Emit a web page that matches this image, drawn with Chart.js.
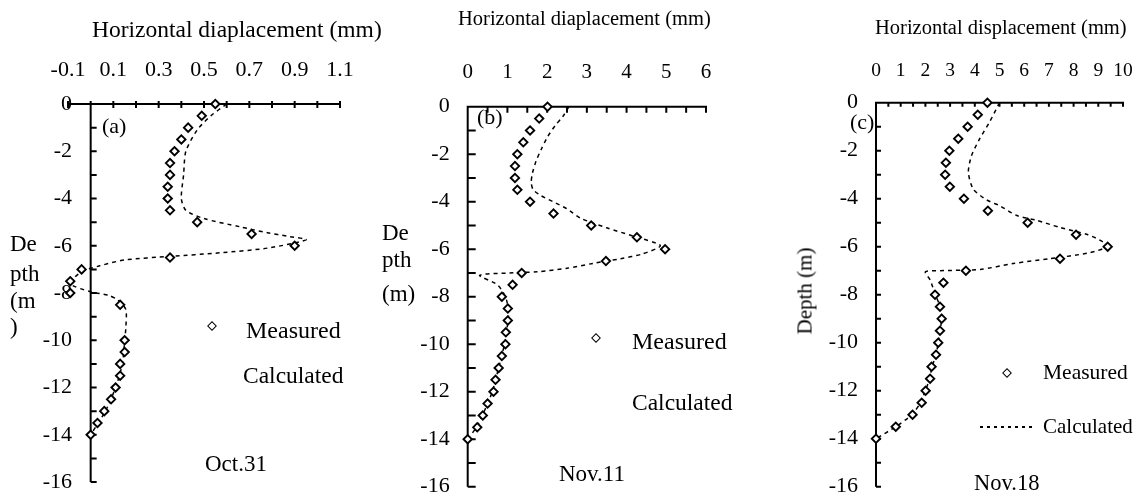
<!DOCTYPE html>
<html><head><meta charset="utf-8">
<script src="https://cdn.jsdelivr.net/npm/chart.js@4.4.0/dist/chart.umd.min.js"></script>
<style>
html,body{margin:0;padding:0;background:#fff;}
#wrap{position:relative;width:1140px;height:502px;overflow:hidden;font-family:'Liberation Serif','Times New Roman',serif;color:#000;}
canvas{position:absolute;top:0;}
.t{position:absolute;white-space:nowrap;line-height:1;transform:translateY(-50%);}
.dm{position:absolute;box-sizing:border-box;width:7px;height:7px;border:1.9px solid #000;background:#fff;transform:translate(-50%,-50%) rotate(45deg);}
.ln{position:absolute;height:1.5px;background:repeating-linear-gradient(90deg,#000 0 3px,transparent 3px 7px);}
.rot{position:absolute;white-space:nowrap;line-height:1;transform:translate(-50%,-50%) rotate(-90deg);}
</style></head><body>
<div id="wrap">
<canvas id="cA" width="380" height="502" style="left:0"></canvas>
<canvas id="cB" width="380" height="502" style="left:380px"></canvas>
<canvas id="cC" width="380" height="502" style="left:760px"></canvas>

<div class="t" style="left:92px;top:30px;font-size:23.5px">Horizontal diaplacement (mm)</div>
<div class="t" style="left:458px;top:18px;font-size:20.5px">Horizontal diaplacement (mm)</div>
<div class="t" style="left:875px;top:27px;font-size:20.5px">Horizontal displacement (mm)</div>

<div class="t" style="left:102px;top:126px;font-size:22px">(a)</div>
<div class="t" style="left:477px;top:117px;font-size:22px">(b)</div>
<div class="t" style="left:850px;top:122px;font-size:22px">(c)</div>

<div class="t" style="left:10px;top:243px;font-size:23px">De</div>
<div class="t" style="left:10px;top:273px;font-size:23px">pth</div>
<div class="t" style="left:10px;top:300px;font-size:23px">(m</div>
<div class="t" style="left:10px;top:326px;font-size:23px">)</div>

<div class="t" style="left:382px;top:232px;font-size:23px">De</div>
<div class="t" style="left:382px;top:259px;font-size:23px">pth</div>
<div class="t" style="left:382px;top:293px;font-size:23px">(m)</div>

<div class="rot" style="left:805px;top:291px;font-size:21px">Depth (m)</div>

<div class="dm" style="left:212px;top:326px"></div>
<div class="t" style="left:246px;top:330px;font-size:24px">Measured</div>
<div class="t" style="left:243px;top:376px;font-size:23.5px">Calculated</div>
<div class="t" style="left:205px;top:463px;font-size:23px">Oct.31</div>

<div class="dm" style="left:596px;top:338px"></div>
<div class="t" style="left:632px;top:341px;font-size:24px">Measured</div>
<div class="t" style="left:632px;top:403px;font-size:23.5px">Calculated</div>
<div class="t" style="left:559px;top:473px;font-size:23px">Nov.11</div>

<div class="dm" style="left:1007px;top:373px"></div>
<div class="t" style="left:1043px;top:373px;font-size:21.5px">Measured</div>
<div class="ln" style="left:980px;top:426px;width:56px"></div>
<div class="t" style="left:1043px;top:426px;font-size:21px">Calculated</div>
<div class="t" style="left:974px;top:483px;font-size:22.5px">Nov.18</div>
</div>
<script>
// ---- data ----
const depthA = [0,-0.5,-1,-1.5,-2,-2.5,-3,-3.5,-4,-4.5,-5,-5.5,-6,-6.5,-7,-7.5,-8,-8.5,-10,-10.5,-11,-11.5,-12,-12.5,-13,-13.5,-14];
const measA = [0.55,0.49,0.43,0.40,0.37,0.35,0.35,0.34,0.34,0.35,0.47,0.71,0.90,0.35,-0.04,-0.09,-0.09,0.13,0.15,0.15,0.13,0.13,0.11,0.09,0.06,0.03,0.00];
const calcDepthA = [0,-0.5,-1.1,-2,-3,-4,-4.5,-4.85,-5.2,-5.45,-5.6,-5.75,-6.1,-6.3,-6.45,-6.6,-6.85,-7.1,-7.6,-7.95,-8.1,-8.3,-8.7,-9.5,-10,-11,-12,-13,-14];
const calcA = [0.60,0.53,0.47,0.42,0.41,0.40,0.42,0.50,0.66,0.78,0.87,0.95,0.78,0.57,0.35,0.15,0.04,-0.04,-0.09,0.00,0.08,0.12,0.155,0.155,0.15,0.14,0.11,0.065,0.00];

const depthBC = [0,-0.5,-1,-1.5,-2,-2.5,-3,-3.5,-4,-4.5,-5,-5.5,-6,-6.5,-7,-7.5,-8,-8.5,-9,-9.5,-10,-10.5,-11,-11.5,-12,-12.5,-13,-13.5,-14];
const measB = [2.01,1.80,1.57,1.40,1.25,1.19,1.19,1.25,1.57,2.16,3.11,4.26,4.97,3.48,1.36,1.13,0.86,1.01,1.01,0.96,0.95,0.86,0.78,0.70,0.65,0.50,0.38,0.24,0.00];
const calcDepthB = [0,-0.4,-0.8,-1.3,-1.8,-2.3,-2.8,-3.2,-3.5,-3.75,-4.0,-4.3,-4.7,-5.1,-5.45,-5.85,-6.2,-6.4,-6.6,-6.8,-6.95,-7.0,-7.1,-7.5,-8,-8.5,-9,-9.5,-10,-10.5,-11,-11.5,-12,-12.5,-13,-13.5,-14];
const calcB = [2.55,2.40,2.20,2.00,1.85,1.72,1.63,1.60,1.65,1.85,2.15,2.50,2.85,3.50,4.17,4.85,4.40,3.85,3.15,2.50,1.75,1.05,0.30,0.75,0.95,1.02,1.02,0.97,0.93,0.85,0.78,0.70,0.62,0.50,0.37,0.22,0.00];

const measC = [4.51,4.12,3.71,3.33,2.97,2.83,2.80,2.99,3.56,4.53,6.14,8.10,9.38,7.45,3.64,2.73,2.39,2.59,2.66,2.59,2.52,2.43,2.25,2.19,2.01,1.85,1.48,0.80,0.00];
const calcDepthC = [0,-0.8,-1.5,-2.2,-2.9,-3.6,-4.05,-4.3,-4.7,-4.9,-5.2,-5.5,-5.8,-6.0,-6.25,-6.5,-6.7,-6.95,-7.0,-7.05,-7.4,-8,-8.5,-9,-9.5,-10,-10.5,-11,-11.5,-12,-12.5,-13,-13.5,-14];
const calcC = [5.00,4.60,4.20,3.87,3.74,3.94,4.48,5.02,5.70,6.50,7.45,8.58,9.19,9.35,8.66,7.04,5.55,4.21,2.60,2.00,2.20,2.40,2.60,2.66,2.59,2.52,2.43,2.27,2.17,2.00,1.80,1.45,0.80,0.00];

const xLabelsA = ['-0.1','0.1','0.3','0.5','0.7','0.9','1.1'];
const xLabelsB = ['0','1','2','3','4','5','6'];
const xLabelsC = ['0','1','2','3','4','5','6','7','8','9','10'];
const yLabels = ['0','-2','-4','-6','-8','-10','-12','-14','-16'];

// ---- helpers ----
const FONT = "'Liberation Serif','Times New Roman',serif";
const pts = (xs, ys) => xs.map((v, i) => ({x: v, y: ys[i]}));
const fmt = v => String(Math.round(v * 10) / 10);
const pick = labels => v => { const s = fmt(v); return labels.includes(s) ? s : ''; };

const axisPlugin = {
  id: 'axes',
  beforeDatasetsDraw(chart, args, o) {
    const {ctx, scales: {x, y}} = chart;
    const x0 = x.getPixelForValue(0), y0 = y.getPixelForValue(0), yB = y.getPixelForValue(y.min);
    ctx.save();
    ctx.strokeStyle = '#000'; ctx.lineWidth = o.lw;
    ctx.beginPath();
    ctx.moveTo(x.left, y0); ctx.lineTo(x.right + 1, y0);
    ctx.moveTo(x0, y0 - 1); ctx.lineTo(x0, yB);
    x.ticks.forEach(t => { const p = x.getPixelForValue(t.value); ctx.moveTo(p, y0 - o.xUp); ctx.lineTo(p, y0 + o.xDown); });
    y.ticks.forEach(t => { const p = y.getPixelForValue(t.value); ctx.moveTo(x0, p); ctx.lineTo(x0 + o.yLen, p); });
    ctx.stroke();
    ctx.restore();
  }
};

function makeChart(id, cfg) {
  return new Chart(document.getElementById(id), {
    type: 'scatter',
    data: {
      datasets: [
        { label: 'Measured', data: pts(cfg.meas, cfg.depth), showLine: false, pointStyle: 'rectRot',
          pointRadius: 4.2, pointBorderWidth: 1.9, pointBackgroundColor: '#fff', pointBorderColor: '#000', clip: false, order: 0 },
        { label: 'Calculated', data: pts(cfg.calc, cfg.calcDepth), showLine: true, pointRadius: 0,
          borderColor: '#000', borderWidth: 1.5, borderDash: [4, 4], tension: 0.25, clip: false, order: 1 }
      ]
    },
    options: {
      responsive: false, animation: false, devicePixelRatio: 1,
      layout: { padding: cfg.pad },
      plugins: { legend: { display: false }, tooltip: { enabled: false }, axes: cfg.axes },
      scales: {
        x: {
          type: 'linear', position: 'top', min: cfg.xmin, max: cfg.xmax,
          afterFit: s => { s.height = 50; s.paddingLeft = 0; s.paddingRight = 0; },
          grid: { display: false, drawTicks: false }, border: { display: false },
          ticks: { stepSize: cfg.xstep, autoSkip: false, maxRotation: 0, minRotation: 0, padding: cfg.xpad, color: '#000',
                   font: { family: FONT, size: cfg.xfont }, callback: pick(cfg.xLabels) }
        },
        y: {
          type: 'linear', position: 'left', min: -16, max: 0,
          afterFit: s => { s.width = cfg.yw; s.paddingTop = 0; s.paddingBottom = 0; },
          grid: { display: false, drawTicks: false }, border: { display: false },
          ticks: { stepSize: 1, autoSkip: false, padding: cfg.ypad, mirror: cfg.mirror, crossAlign: cfg.mirror ? 'far' : 'near',
                   color: '#000', font: { family: FONT, size: 22 }, callback: pick(yLabels) }
        }
      }
    },
    plugins: [axisPlugin]
  });
}

makeChart('cA', { meas: measA, depth: depthA, calc: calcA, calcDepth: calcDepthA,
  xmin: -0.1, xmax: 1.1, xstep: 0.1, xLabels: xLabelsA, xfont: 22, xpad: 21, ypad: -25.3, mirror: true, yw: 0,
  pad: { left: 68, top: 54, right: 40, bottom: 20 },
  axes: { lw: 2, xUp: 3, xDown: 4, yLen: 6 } });

makeChart('cB', { meas: measB, depth: depthBC, calc: calcB, calcDepth: calcDepthB,
  xmin: 0, xmax: 6, xstep: 0.5, xLabels: xLabelsB, xfont: 21, xpad: 22, ypad: 18, mirror: false, yw: 60,
  pad: { left: 27.7, top: 56.7, right: 54, bottom: 15.3 },
  axes: { lw: 2, xUp: 0, xDown: 6, yLen: 8 } });

makeChart('cC', { meas: measC, depth: depthBC, calc: calcC, calcDepth: calcDepthC,
  xmin: 0, xmax: 10, xstep: 0.5, xLabels: xLabelsC, xfont: 19.5, xpad: 20.5, ypad: 18, mirror: false, yw: 60,
  pad: { left: 56, top: 52.7, right: 17, bottom: 15.3 },
  axes: { lw: 2, xUp: 0, xDown: 4, yLen: 5 } });
</script>
</body></html>
